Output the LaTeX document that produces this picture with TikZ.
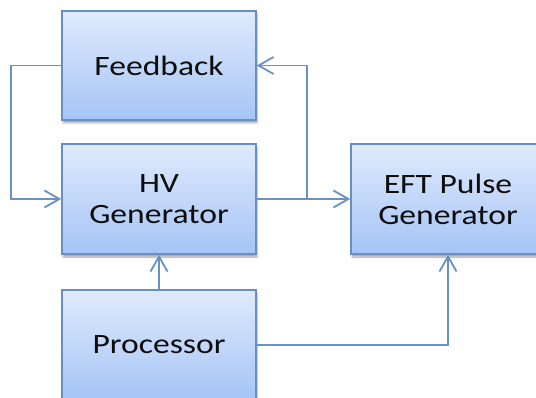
\documentclass[tikz,border=0pt]{standalone}
\usepackage{fontspec}
\setmainfont[FakeStretch=1.2]{Carlito}
\usetikzlibrary{arrows.meta,shadows.blur}
\definecolor{boxtop}{RGB}{224,234,252}
\definecolor{boxbot}{RGB}{165,196,246}
\definecolor{boxedge}{RGB}{104,142,196}
\definecolor{wirecol}{RGB}{104,145,200}
\begin{document}
\begin{tikzpicture}[x=1pt,y=-1pt,
  block/.style={draw=boxedge, line width=1.5pt, top color=boxtop, bottom color=boxbot,
    minimum width=194pt, minimum height=110pt, inner sep=0pt, align=center,
    font=\fontsize{28}{31}\selectfont, text=black!95,
    blur shadow={shadow xshift=1pt, shadow yshift=-3pt, shadow blur steps=5, shadow opacity=35}},
  wire/.style={draw=wirecol, line width=1.8pt,
    -{Straight Barb[length=15pt,width=17pt,line width=1.8pt]}},
]
\useasboundingbox (0,0) rectangle (536,398);
\clip (0,0) rectangle (536,398);

% blocks
\node[block, minimum height=109pt] (fb) at (159,65.5) {Feedback};
\node[block] (hv) at (159,199) {HV\\Generator};
\node[block] (eft) at (448,199) {EFT Pulse\\Generator};
\node[block] (proc) at (159,345) {Processor};

% connectors
\coordinate (br) at (307,199);
\draw[wire] (fb.west) -- ++(-50,0) |- (hv.west);
\draw[wire] (hv.east) -- (eft.west);
\draw[wire] (br) |- (fb.east);
\draw[wire] (proc.north) -- (hv.south);
\draw[wire] (proc.east) -| (eft.south);
\end{tikzpicture}
\end{document}
